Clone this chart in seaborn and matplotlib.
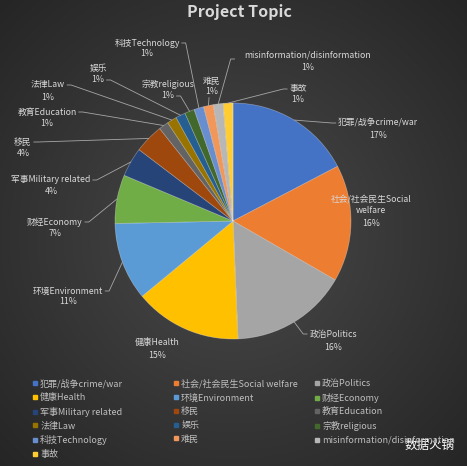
import numpy as np
import matplotlib
matplotlib.use('Agg')
import matplotlib.pyplot as plt
import seaborn as sns
from matplotlib.lines import Line2D

# ---------------- data ----------------
categories = ['犯罪/战争crime/war', '社会/社会民生Social welfare', '政治Politics', '健康Health',
              '环境Environment', '财经Economy', '军事Military related', '移民', '教育Education',
              '法律Law', '娱乐', '宗教religious', '科技Technology', '难民',
              'misinformation/disinformation', '事故']
label_names = ['犯罪/战争crime/war', '社会/社会民生Social\nwelfare', '政治Politics', '健康Health',
               '环境Environment', '财经Economy', '军事Military related', '移民', '教育Education',
               '法律Law', '娱乐', '宗教religious', '科技Technology', '难民',
               'misinformation/disinformation', '事故']
counts = [13, 12, 12, 11, 8, 5, 3, 3, 1, 1, 1, 1, 1, 1, 1, 1]
colors = ['#4472C4', '#ED7D31', '#A5A5A5', '#FFC000', '#5B9BD5', '#70AD47', '#264478', '#9E480E',
          '#636363', '#997300', '#255E91', '#43682B', '#698ED0', '#F1975A', '#B7B7B7', '#FFCD33']

# ---------------- layout (pixels) ----------------
W, H = 467, 466
CX, CY, R = 233, 221, 118
# label positions: (x center, name y, pct y, leader anchor)
label_pos = [(378, 123, 136, 'l'), (371, 205, 223, None), (333, 334, 347, 'l'), (157, 343, 355, None),
             (68, 291, 302, 'r'), (55, 222, 233, 'r'), (51, 180, 191, 'r'), (23, 142, 154, 'r'),
             (47, 112, 124, 'r'), (48, 85, 97, 'r'), (98, 68, 80, 'rp'), (168, 84, 96, 'rp'),
             (147, 43, 54, 'r'), (212, 81, 92, 'b'), (308, 55, 67, 'lm'), (298, 89, 100, 'l')]

sns.set_theme(style='white')
plt.rcParams['font.family'] = ['Noto Sans CJK SC', 'DejaVu Sans']

fig = plt.figure(figsize=(W / 100, H / 100), dpi=100)

# background radial gradient
ax_bg = fig.add_axes([0, 0, 1, 1], zorder=0)
yy, xx = np.mgrid[0:H, 0:W]
d = np.sqrt((xx - 233) ** 2 + (yy - 235) ** 2) / 340.0
d = np.clip(d, 0, 1)
c0 = np.array([0x4a, 0x4a, 0x4a]) / 255
c1 = np.array([0x24, 0x24, 0x24]) / 255
img = c0[None, None, :] * (1 - d[..., None]) + c1[None, None, :] * d[..., None]
ax_bg.imshow(img, extent=(0, W, H, 0), aspect='auto')
ax_bg.set_xlim(0, W)
ax_bg.set_ylim(H, 0)
ax_bg.axis('off')

# pie axes
ax = fig.add_axes([(CX - R) / W, 1 - (CY + R) / H, 2 * R / W, 2 * R / H], zorder=1)
ax.patch.set_alpha(0)
wedges, _ = ax.pie(counts, colors=colors, startangle=90, counterclock=False, radius=1,
                   wedgeprops=dict(edgecolor=(1, 1, 1, 0.35), linewidth=0.5))
ax.set_xlim(-1, 1)
ax.set_ylim(-1, 1)
ax.set_aspect('equal')
ax.axis('off')

# overlay axes in pixel coordinates
ax_o = fig.add_axes([0, 0, 1, 1], zorder=2)
ax_o.patch.set_alpha(0)
ax_o.set_xlim(0, W)
ax_o.set_ylim(H, 0)
ax_o.axis('off')

total = sum(counts)
txt_color = '#d9d9d9'
fs = 6.3
name_texts, pct_texts = [], []
for name, v, (x, yn, yp, anc) in zip(label_names, counts, label_pos):
    t1 = ax_o.text(x, yn, name, ha='center', va='center', fontsize=fs, color=txt_color, linespacing=1.3)
    t2 = ax_o.text(x, yp, f'{round(100 * v / total)}%', ha='center', va='center', fontsize=fs, color=txt_color)
    name_texts.append(t1)
    pct_texts.append(t2)

fig.canvas.draw()
renderer = fig.canvas.get_renderer()
inv = ax_o.transData.inverted()


def bbox_px(t):
    bb = t.get_window_extent(renderer)
    (x0, y0), (x1, y1) = inv.transform([(bb.x0, bb.y0), (bb.x1, bb.y1)])
    return min(x0, x1), min(y0, y1), max(x0, x1), max(y0, y1)


for w, t1, t2, (x, yn, yp, anc) in zip(wedges, name_texts, pct_texts, label_pos):
    if anc is None:
        continue
    theta = np.deg2rad((w.theta1 + w.theta2) / 2)
    ex, ey = ax.transData.transform((np.cos(theta), np.sin(theta)))
    ex, ey = inv.transform((ex, ey))
    nb = bbox_px(t1)
    pb = bbox_px(t2)
    if anc == 'l':
        axp, ayp = nb[0] - 2, yn
        pts = [(ex, ey), (axp - 4, ayp), (axp, ayp)]
    elif anc == 'lm':
        axp, ayp = min(nb[0], pb[0]) - 14, (yn + yp) / 2 - 2
        pts = [(ex, ey), (axp, ayp), (axp + 4, ayp)]
    elif anc == 'r':
        axp, ayp = nb[2] + 2, yn
        pts = [(ex, ey), (axp + 4, ayp), (axp, ayp)]
    elif anc == 'rp':
        axp, ayp = pb[2] + 2, yp
        pts = [(ex, ey), (axp + 4, ayp), (axp, ayp)]
    else:
        axp, ayp = x - 3, pb[3] + 1
        pts = [(ex, ey), (axp, ayp)]
    xs, ys = zip(*pts)
    ax_o.plot(xs, ys, color='#a6a6a6', lw=0.6)

# title
fig.text(239 / W, 1 - 12 / H, 'Project Topic', ha='center', va='center', fontsize=11.5,
         fontweight='bold', color='#d9d9d9')

# legend: three columns
order_cols = [[0, 3, 6, 9, 12, 15], [1, 4, 7, 10, 13], [2, 5, 8, 11, 14]]
col_x = [32, 173, 314]
for xs_, idx in zip(col_x, order_cols):
    handles = [Line2D([], [], marker='s', linestyle='', color=colors[i], markersize=3.2) for i in idx]
    labs = [categories[i] for i in idx]
    fig.legend(handles, labs, loc='upper left', bbox_to_anchor=(xs_ / W, 1 - 379 / H),
               frameon=False, fontsize=6.5, labelcolor='#bfbfbf', handlelength=0.6,
               handletextpad=0.3, borderpad=0, borderaxespad=0, labelspacing=0.52)

# watermark
fig.text(430 / W, 1 - 445 / H, '数据火锅', ha='center', va='center', fontsize=9, color='#ffffff')

fig.savefig('out.png', dpi=100)
